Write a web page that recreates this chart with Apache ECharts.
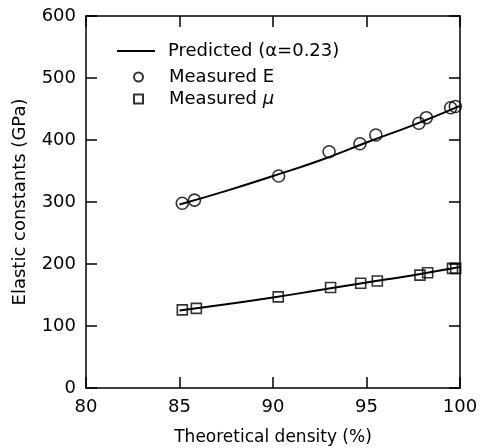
<!DOCTYPE html>
<html>
<head>
<meta charset="utf-8">
<script src="https://cdn.jsdelivr.net/npm/echarts@6/dist/echarts.min.js"></script>
<style>
  html, body { margin: 0; padding: 0; background: #fff; }
  #chart { width: 480px; height: 448px; }
</style>
</head>
<body>
<div id="chart"></div>
<script>
// measured points (theoretical density %, GPa)
const densityE = [85.15, 85.8, 90.3, 93.0, 94.65, 95.5, 97.8, 98.2, 99.5, 99.75];
const measuredE = [298, 303, 342, 381, 394, 408, 427, 436, 452, 454];

const densityMu = [85.15, 85.9, 90.28, 93.08, 94.69, 95.58, 97.86, 98.27, 99.6, 99.77];
const measuredMu = [126, 128.5, 147, 162, 169, 172.5, 182, 186, 193, 193];

// predicted curves
const predDensity = [85, 87.5, 90, 92.5, 95, 97.5, 100];
const predE = [296, 318, 342, 367, 396, 424, 455];
const predMu = [125, 135, 146, 158, 170, 182, 195];

const FONT = 'DejaVu Sans';
const FS = 18;

const chart = echarts.init(document.getElementById('chart'));

const pairs = (xs, ys) => xs.map((x, i) => [x, ys[i]]);
const blackLine = { color: '#000', width: 1.5 };

chart.setOption({
    animation: false,
    backgroundColor: '#fff',
    textStyle: { fontFamily: FONT, color: '#000' },
    grid: { left: 86, right: 20, top: 16, bottom: 60, outerBoundsMode: 'none', containLabel: false },
    xAxis: [{
        type: 'value',
        min: 80, max: 100, interval: 5,
        name: 'Theoretical density (%)',
        nameLocation: 'middle',
        nameGap: 41,
        nameMoveOverlap: false,
        nameTextStyle: { fontSize: 17, color: '#000', fontFamily: FONT },
        axisLine: { onZero: false, lineStyle: blackLine },
        axisTick: { inside: true, length: 11, lineStyle: blackLine },
        axisLabel: { margin: 10, fontSize: FS, color: '#000', fontFamily: FONT },
        splitLine: { show: false }
    }, {
        type: 'value', position: 'top',
        min: 80, max: 100, interval: 5,
        axisLine: { onZero: false, lineStyle: blackLine },
        axisTick: { inside: true, length: 11, lineStyle: blackLine },
        axisLabel: { show: false },
        splitLine: { show: false }
    }],
    yAxis: [{
        type: 'value',
        min: 0, max: 600, interval: 100,
        name: 'Elastic constants (GPa)',
        nameLocation: 'middle',
        nameGap: 57,
        nameMoveOverlap: false,
        nameTextStyle: { fontSize: FS, color: '#000', fontFamily: FONT },
        axisLine: { show: true, onZero: false, lineStyle: blackLine },
        axisTick: { show: true, inside: true, length: 11, lineStyle: blackLine },
        axisLabel: { margin: 10, fontSize: FS, color: '#000', fontFamily: FONT },
        splitLine: { show: false }
    }, {
        type: 'value', position: 'right',
        min: 0, max: 600, interval: 100,
        axisLine: { show: true, onZero: false, lineStyle: blackLine },
        axisTick: { show: true, inside: true, length: 11, lineStyle: blackLine },
        axisLabel: { show: false },
        splitLine: { show: false }
    }],
    legend: [{
        data: [{ name: 'Predicted (α=0.23)', icon: 'rect' }],
        left: 117, top: 42, padding: 0,
        itemWidth: 38, itemHeight: 2,
        textStyle: { fontSize: FS, color: '#000', fontFamily: FONT, padding: [0, 0, 0, 8] }
    }, {
        data: ['Measured E', 'Measured μ'],
        orient: 'vertical',
        left: 133, top: 68, padding: 0,
        itemWidth: 9, itemHeight: 9, itemGap: 4,
        formatter: name => name === 'Measured μ' ? '{n|Measured }{i|μ}' : name,
        textStyle: {
            fontSize: FS, color: '#000', fontFamily: FONT, padding: [0, 0, 0, 21],
            rich: {
                n: { fontSize: FS, color: '#000', fontFamily: FONT },
                i: { fontSize: FS, color: '#000', fontFamily: FONT, fontStyle: 'italic' }
            }
        }
    }],
    series: [{
        name: 'Predicted (α=0.23)',
        type: 'line',
        smooth: true,
        symbol: 'none',
        data: pairs(predDensity, predE),
        lineStyle: { color: '#000', width: 2 },
        itemStyle: { color: '#000' },
        z: 2
    }, {
        name: 'Predicted μ',
        type: 'line',
        smooth: true,
        symbol: 'none',
        data: pairs(predDensity, predMu),
        lineStyle: { color: '#000', width: 2 },
        itemStyle: { color: '#000' },
        z: 2
    }, {
        name: 'Measured E',
        type: 'scatter',
        symbol: 'circle',
        symbolSize: 12,
        data: pairs(densityE, measuredE),
        itemStyle: { color: 'rgba(255,255,255,0)', borderColor: '#000', borderWidth: 1.6 },
        z: 3
    }, {
        name: 'Measured μ',
        type: 'scatter',
        symbol: 'rect',
        symbolSize: 10,
        data: pairs(densityMu, measuredMu),
        itemStyle: { color: 'rgba(255,255,255,0)', borderColor: '#000', borderWidth: 1.6 },
        z: 3
    }]
});
</script>
</body>
</html>
